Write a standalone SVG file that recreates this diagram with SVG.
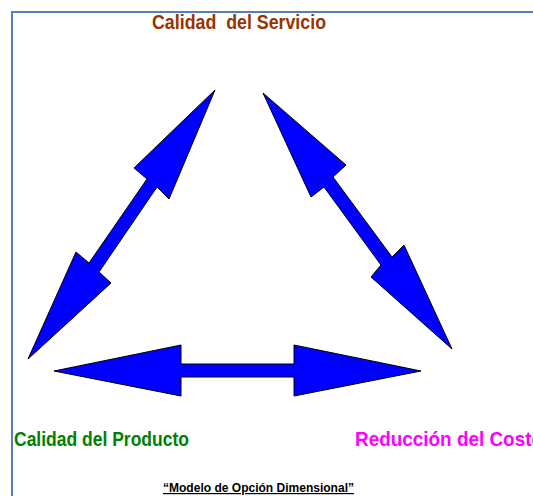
<svg xmlns="http://www.w3.org/2000/svg" width="533" height="496" viewBox="0 0 533 496">
<style>
.arrow{fill:#0000FF;stroke:#000;stroke-width:1;stroke-linejoin:miter}
.lbl{font-family:"Liberation Sans",Arial,sans-serif;font-weight:bold}
</style>
<rect x="0" y="0" width="533" height="496" fill="#fff"/>
<path d="M12 496 V12 H533" fill="none" stroke="#4F81BD" stroke-width="2"/>
<g id="connectors">
<polygon class="arrow" points="215,90 169,199 157,187 99,272 111,283 28,359 76,252 89,263 147,179 134,168"/>
<polygon class="arrow" points="263,93 346,165 333,177 392,257 404,245 452,349 371,277 381,265 324,187 311,197"/>
<polygon class="arrow" points="54,371 181,345 181,364 294,364 294,345 421,371 294,396 294,377 181,377 181,396"/>
</g>
<g id="node-servicio">
<text class="lbl" x="152" y="29" font-size="20" fill="#993300" textLength="174" lengthAdjust="spacingAndGlyphs" xml:space="preserve">Calidad  del Servicio</text>
</g>
<g id="node-producto">
<text class="lbl" x="14" y="446" font-size="21" fill="#008000" textLength="175" lengthAdjust="spacingAndGlyphs">Calidad del Producto</text>
</g>
<g id="node-costo">
<text class="lbl" x="355" y="446" font-size="21" fill="#FF00FF" textLength="188" lengthAdjust="spacingAndGlyphs">Reducción del Costo</text>
</g>
<g id="caption">
<text class="lbl" x="163" y="492" font-size="12" fill="#000" textLength="191" lengthAdjust="spacingAndGlyphs" text-decoration="underline">“Modelo de Opción Dimensional”</text>
</g>
</svg>
